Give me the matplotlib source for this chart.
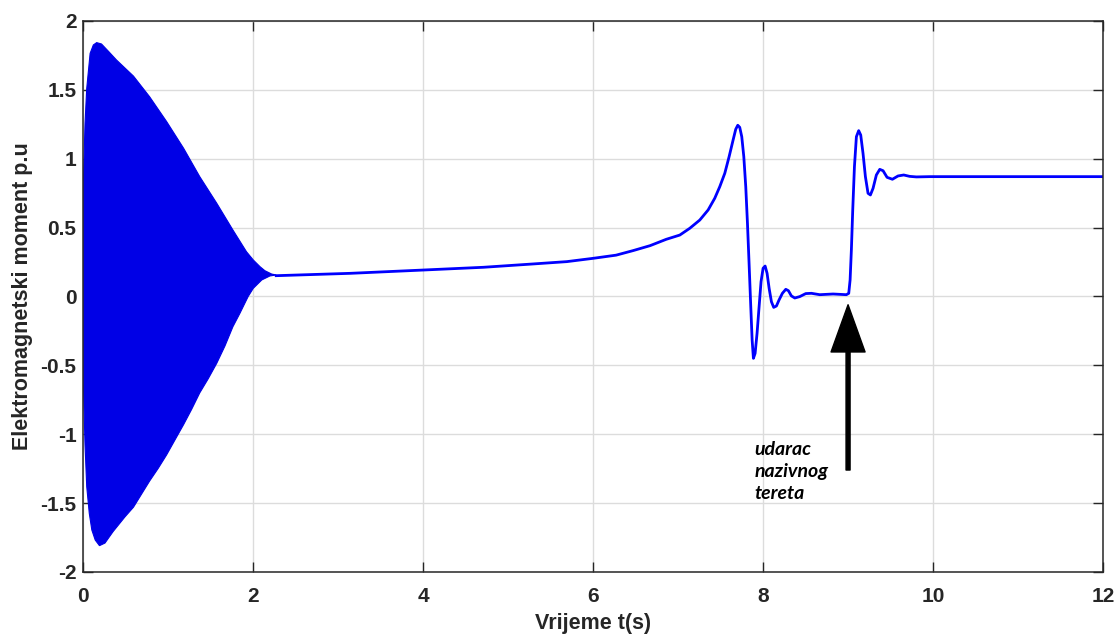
# electromagnetic torque of a machine: start-up transient and rated load step
import numpy as np
import matplotlib.pyplot as plt

# upper envelope of the start-up oscillation (t in s, torque in p.u)
t_up = [0.0, 0.02, 0.04, 0.08, 0.118, 0.157, 0.214, 0.3, 0.39, 0.59, 0.78,
        0.98, 1.18, 1.37, 1.57, 1.76, 1.92, 2.0, 2.08, 2.137, 2.216, 2.27]
env_up = [0.82, 1.257, 1.51, 1.765, 1.826, 1.843, 1.833, 1.777, 1.717,
          1.60, 1.45, 1.27, 1.076, 0.87, 0.677, 0.483, 0.325, 0.265, 0.216,
          0.187, 0.163, 0.156]

# lower envelope of the start-up oscillation
t_lo = [0.0, 0.02, 0.04, 0.07, 0.10, 0.14, 0.19, 0.255, 0.35, 0.49, 0.59,
        0.686, 0.78, 0.882, 0.98, 1.078, 1.18, 1.275, 1.37, 1.47, 1.57,
        1.667, 1.76, 1.843, 1.94, 2.0, 2.1, 2.196, 2.27]
env_lo = [-0.62, -1.078, -1.38, -1.574, -1.695, -1.768, -1.809, -1.79,
          -1.707, -1.60, -1.53, -1.434, -1.34, -1.247, -1.15, -1.042, -0.93,
          -0.819, -0.70, -0.597, -0.485, -0.359, -0.22, -0.122, 0.0, 0.059,
          0.12, 0.149, 0.156]

# torque after the oscillation dies out
t_line = [2.27, 3.14, 4.0, 4.71, 5.29, 5.69, 6.0, 6.27, 6.47, 6.67, 6.86,
          7.02, 7.137, 7.255, 7.353, 7.431, 7.49, 7.549, 7.6, 7.647, 7.678,
          7.702, 7.725, 7.749, 7.773, 7.796, 7.816, 7.835, 7.855, 7.871,
          7.886, 7.906, 7.929, 7.953, 7.976, 8.0, 8.024, 8.047, 8.071, 8.098,
          8.125, 8.157, 8.188, 8.227, 8.267, 8.298, 8.333, 8.373, 8.431,
          8.502, 8.569, 8.667, 8.824, 8.98, 9.008, 9.024, 9.039, 9.055,
          9.075, 9.098, 9.125, 9.149, 9.176, 9.204, 9.235, 9.263, 9.294,
          9.333, 9.373, 9.412, 9.459, 9.522, 9.588, 9.655, 9.725, 9.804,
          9.961, 12.0]
tq_line = [0.151, 0.168, 0.192, 0.212, 0.236, 0.253, 0.277, 0.30, 0.333,
           0.369, 0.415, 0.446, 0.495, 0.555, 0.628, 0.713, 0.797, 0.894,
           1.015, 1.136, 1.214, 1.243, 1.228, 1.16, 1.015, 0.797, 0.531,
           0.241, -0.074, -0.316, -0.449, -0.413, -0.267, -0.074, 0.108,
           0.205, 0.221, 0.168, 0.059, -0.038, -0.079, -0.069, -0.025, 0.023,
           0.052, 0.042, 0.004, -0.011, -0.001, 0.021, 0.023, 0.013, 0.018,
           0.013, 0.023, 0.12, 0.338, 0.628, 0.943, 1.16, 1.204, 1.172,
           1.039, 0.87, 0.749, 0.737, 0.785, 0.882, 0.923, 0.913, 0.865,
           0.851, 0.875, 0.882, 0.872, 0.868, 0.87, 0.87]

xticks = [0, 2, 4, 6, 8, 10, 12]
yticks = [-2, -1.5, -1, -0.5, 0, 0.5, 1, 1.5, 2]
ytick_labels = ['-2', '-1.5', '-1', '-0.5', '0', '0.5', '1', '1.5', '2']

load_t = 9.0
note = 'udarac\nnazivnog\ntereta'

dark = '#262626'
plt.rcParams['font.family'] = ['Liberation Sans', 'DejaVu Sans']

fig = plt.figure(figsize=(11.2, 6.4), dpi=100)
ax = fig.add_axes([0.0744, 0.1063, 0.9104, 0.8609])

# oscillation band as one polygon: upper edge then lower edge back
ax.fill(np.concatenate([t_up, t_lo[::-1]]),
        np.concatenate([env_up, env_lo[::-1]]),
        color='#0000e6', lw=0.8, ec='#0000e6')
ax.plot(t_line, tq_line, color='#0000ff', lw=2.0, solid_joinstyle='round')

ax.set_xlim(0, 12)
ax.set_ylim(-2, 2)
ax.set_xticks(xticks)
ax.set_yticks(yticks)
ax.set_yticklabels(ytick_labels)
ax.grid(True, color='#dcdcdc', lw=1.0)
ax.set_axisbelow(True)
ax.tick_params(direction='in', length=7, width=1.0, color=dark,
               top=True, right=True, labelsize=15, labelcolor=dark)
ax.tick_params(axis='x', pad=11)
ax.tick_params(axis='y', pad=5)
for lab in ax.get_xticklabels() + ax.get_yticklabels():
    lab.set_fontweight('bold')
for sp in ax.spines.values():
    sp.set_color(dark)
    sp.set_linewidth(1.1)

ax.set_xlabel('Vrijeme t(s)', fontsize=15.5, fontweight='bold', color=dark,
              labelpad=5)
ax.set_ylabel('Elektromagnetski moment p.u', fontsize=15.5, fontweight='bold',
              color=dark, labelpad=5)

# arrow marking the rated load step
ax.annotate('', xy=(load_t, -0.06), xytext=(load_t, -1.26),
            arrowprops=dict(facecolor='black', edgecolor='black', width=2.9,
                            headwidth=24.5, headlength=34, shrink=0))
ax.text(7.9, -1.27, note, fontsize=14, fontweight='bold', style='italic',
        family=['Lato', 'DejaVu Sans'], va='center', ha='left',
        linespacing=1.38)

fig.savefig('out.png', dpi=100)
